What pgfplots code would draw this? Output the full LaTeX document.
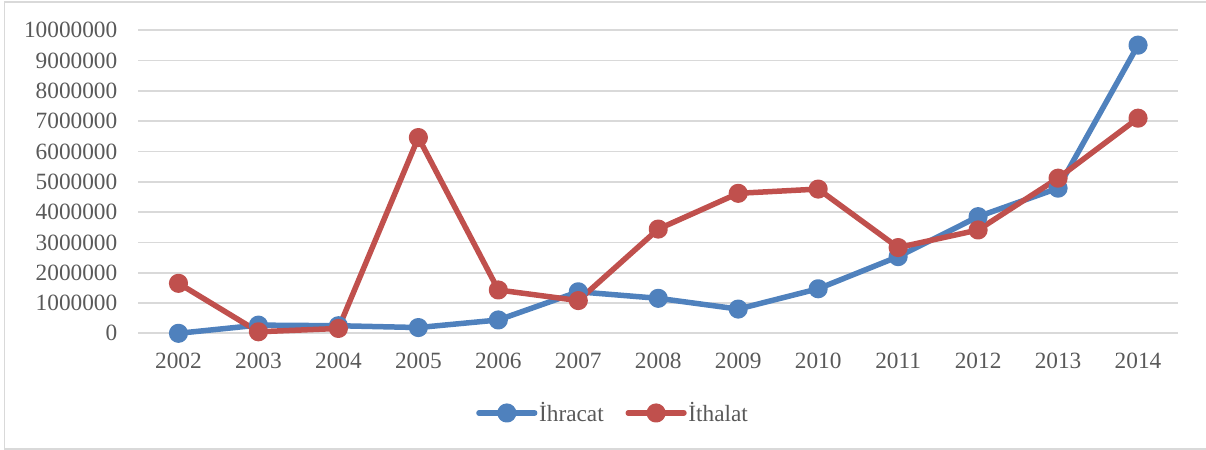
\documentclass[border=0pt]{standalone}
\usepackage{fontspec}
\setmainfont{Liberation Serif}
\usepackage{pgfplots}
\pgfplotsset{compat=1.18}
\definecolor{exblue}{HTML}{4F81BD}
\definecolor{exred}{HTML}{C0504D}
\definecolor{gridgray}{HTML}{D9D9D9}
\definecolor{txtgray}{HTML}{595959}
\newcommand\chartfont{\fontsize{23.3bp}{28bp}\selectfont}
\begin{document}
\begin{tikzpicture}
\useasboundingbox (-138.5bp,-116.7bp) rectangle (1067.5bp,333.3bp);
\draw[gridgray, line width=1.75bp] (-134bp,-116bp) rectangle (1090bp,331.6bp);
\begin{axis}[
  scale only axis,
  width=1039.5bp, height=303bp,
  xmin=-0.5, xmax=12.5,
  ymin=0, ymax=10000000,
  scaled y ticks=false,
  clip=false,
  axis line style={draw=none},
  major tick length=0pt,
  xtick={0,1,...,12},
  xticklabels={2002,2003,2004,2005,2006,2007,2008,2009,2010,2011,2012,2013,2014},
  ytick={0,1000000,2000000,3000000,4000000,5000000,6000000,7000000,8000000,9000000,10000000},
  yticklabels={0,1000000,2000000,3000000,4000000,5000000,6000000,7000000,8000000,9000000,10000000},
  ymajorgrids,
  grid style={gridgray, line width=1.75bp},
  ticklabel style={font=\chartfont, text=txtgray, inner sep=0pt},
  yticklabel style={anchor=east, xshift=-21bp},
  xticklabel style={anchor=north, yshift=-20bp},
  legend columns=2,
  legend cell align=left,
  legend style={draw=none, fill=none, at={(0.3247,-0.263)}, anchor=west,
    inner sep=0pt, font=\chartfont, text=txtgray,
    nodes={inner sep=1.7bp, text=txtgray},
    /tikz/every even column/.append style={column sep=20bp}},
  legend image code/.code={
    \draw[#1, mark repeat=2, mark phase=2] plot coordinates {(0bp,0bp) (27.85bp,0bp) (55.7bp,0bp)};
  },
  every axis plot/.append style={line width=5.5bp, line join=round, line cap=round,
    mark=*, mark size=6.8bp, mark options={solid, line width=0pt}},
]
\addplot[exblue, mark options={fill=exblue, draw=exblue}] coordinates {
(0,0) (1,270000) (2,250000) (3,190000) (4,440000) (5,1370000) (6,1155000)
(7,800000) (8,1470000) (9,2530000) (10,3850000) (11,4790000) (12,9510000)};
\addlegendentry{İhracat}
\addplot[exred, mark options={fill=exred, draw=exred}] coordinates {
(0,1650000) (1,50000) (2,160000) (3,6460000) (4,1430000) (5,1080000) (6,3440000)
(7,4620000) (8,4760000) (9,2830000) (10,3410000) (11,5120000) (12,7100000)};
\addlegendentry{İthalat}
\end{axis}
\end{tikzpicture}
\end{document}
